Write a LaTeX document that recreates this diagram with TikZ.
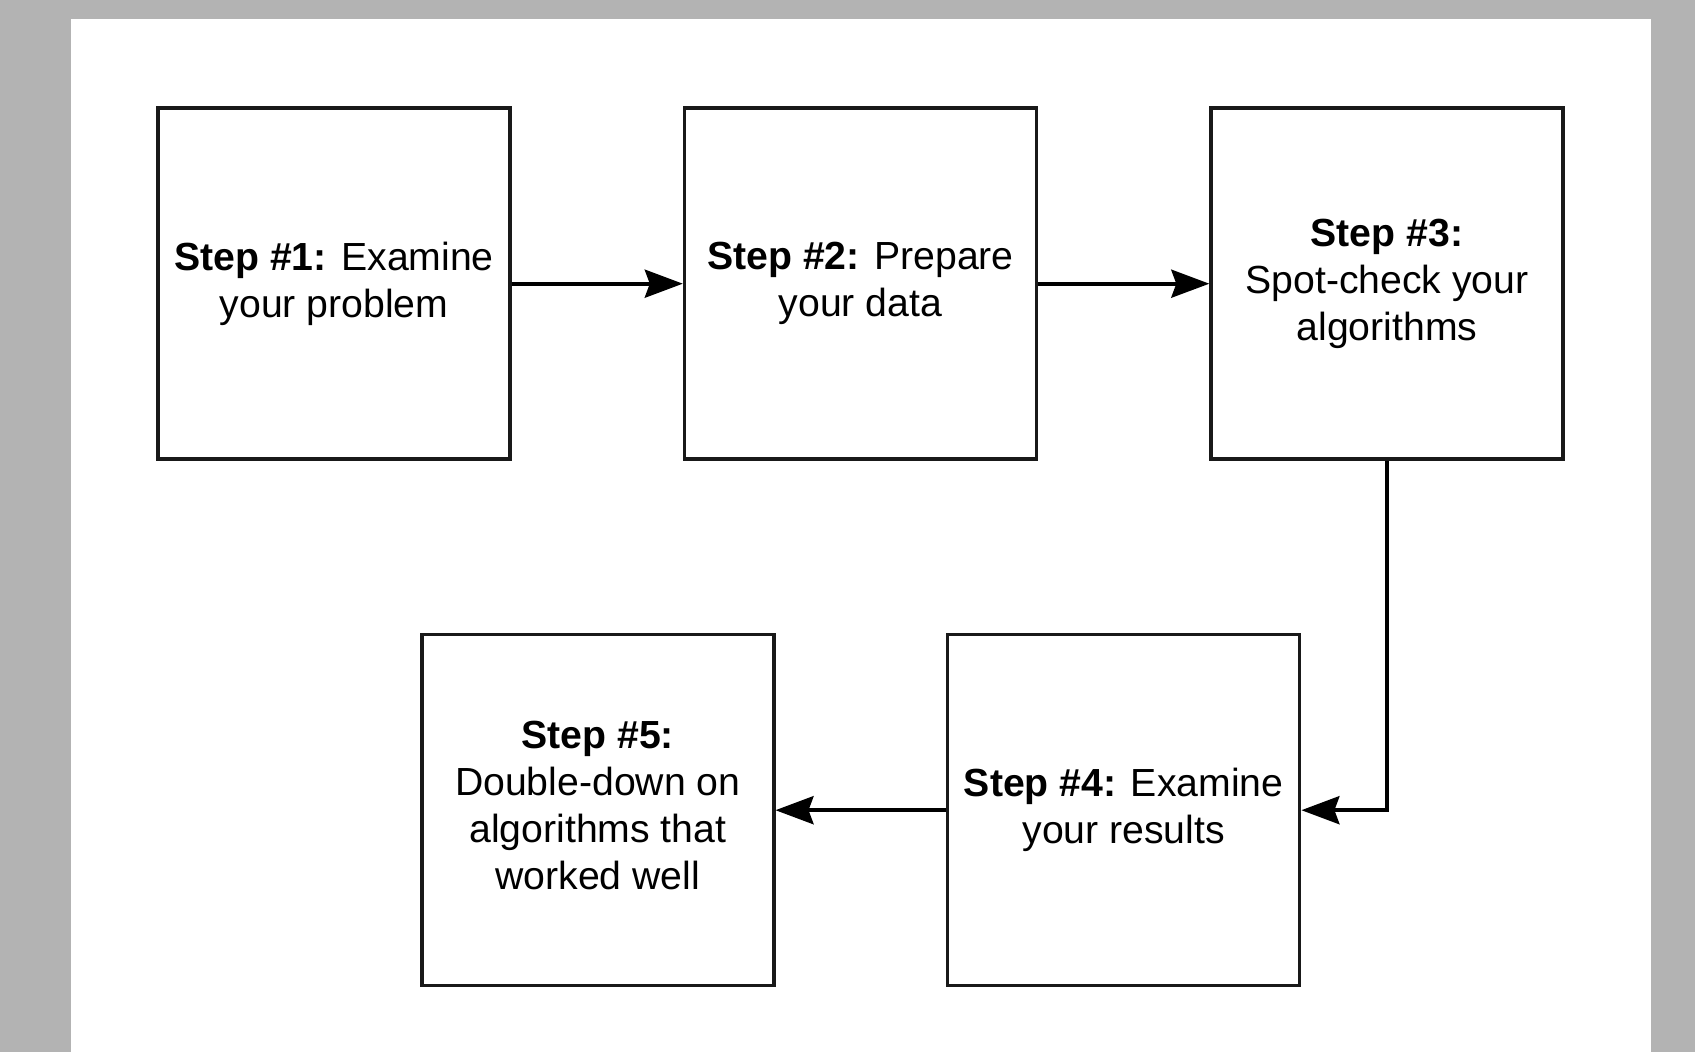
\documentclass[tikz,border=0pt]{standalone}
\usepackage{fontspec}
\setmainfont{Liberation Sans}
\usetikzlibrary{arrows.meta}
\definecolor{bggray}{HTML}{B3B3B3}
\begin{document}
\begin{tikzpicture}[x=0.5pt,y=-0.5pt,
  stepbox/.style={draw=black!90, line width=1.7pt, minimum width=176pt, minimum height=175.5pt,
    inner sep=0pt, align=center, font=\fontsize{19.6pt}{23.5pt}\selectfont, fill=white},
  conn/.style={draw=black, line width=1.9pt, -{Stealth[length=19pt,width=14pt,inset=2.5pt]}}]
\useasboundingbox (0,0) rectangle (1695,1052);
\fill[bggray] (0,0) rectangle (1695,1052);
\fill[white] (71.3,19.5) rectangle (1650.8,1052);
\node[stepbox] (b1) at (334,283.7) {\textbf{Step \#1:} Examine\\your problem};
\node[stepbox] (b2) at (860.5,283.7) {\textbf{Step \#2:} Prepare\\your data};
\node[stepbox] (b3) at (1387,283.7) {\textbf{Step \#3:}\\Spot-check your\\algorithms};
\node[stepbox] (b4) at (1123.7,810.2) {\textbf{Step \#4:} Examine\\your results};
\node[stepbox] (b5) at (597.8,810.2) {\textbf{Step \#5:}\\Double-down on\\algorithms that\\worked well\\[-26pt]\strut};
\draw[conn] (b1.east) -- (b2.west);
\draw[conn] (b2.east) -- (b3.west);
\draw[conn] (b3.south) |- (b4.east);
\draw[conn] (b4.west) -- (b5.east);
\end{tikzpicture}
\end{document}
